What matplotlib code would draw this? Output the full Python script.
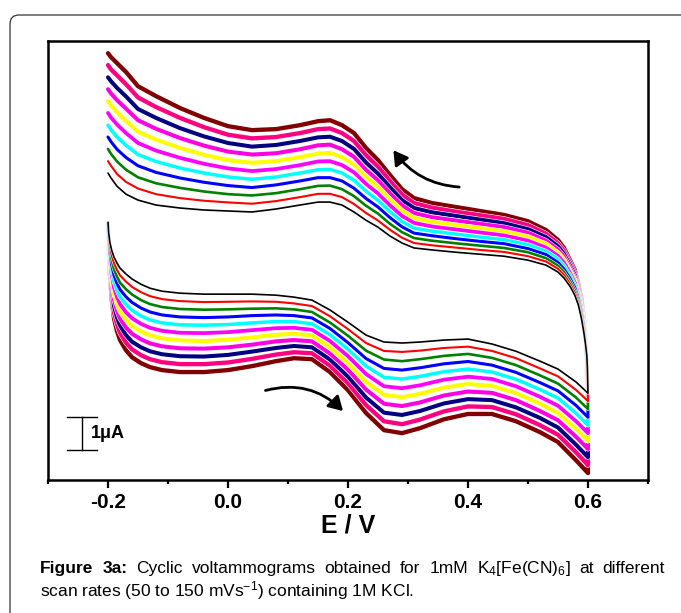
import matplotlib
matplotlib.use("Agg")
import matplotlib.pyplot as plt
import matplotlib.patheffects as pe
from matplotlib.patches import FancyArrowPatch, FancyBboxPatch
from matplotlib.transforms import IdentityTransform
from matplotlib.ticker import MultipleLocator, FormatStrFormatter

plt.rcParams['font.family'] = ['Liberation Sans', 'DejaVu Sans']
plt.rcParams['mathtext.fontset'] = 'custom'
plt.rcParams['mathtext.rm'] = 'Liberation Sans'
plt.rcParams['mathtext.bf'] = 'Liberation Sans:bold'
plt.rcParams['mathtext.it'] = 'Liberation Sans:italic'
plt.rcParams['axes.unicode_minus'] = False

# =========================================================
# data (E in V, I in uA)
# =========================================================
scan_rates = [50, 60, 70, 80, 90, 100, 110, 120, 130, 140, 150]  # mV/s
colors = ['#000000', '#FF0000', '#008000', '#0000FF', '#00FFFF', '#FF00FF',
          '#FFFF00', '#FF00E0', '#000080', '#FF0080', '#800000']

# forward scan -0.2 -> 0.6 V
E_fwd = [-0.2, -0.199, -0.197, -0.194, -0.19, -0.185, -0.18, -0.17, -0.16, -0.145, -0.13,
         -0.11, -0.08, -0.04, 0.0, 0.04, 0.08, 0.11, 0.14, 0.17, 0.2, 0.23, 0.26, 0.29,
         0.32, 0.36, 0.4, 0.44, 0.48, 0.52, 0.55, 0.58, 0.6]
fwd_50 = [2.36, 2.06, 1.76, 1.52, 1.30, 1.12, 0.97, 0.79, 0.64, 0.48, 0.36, 0.27, 0.21,
          0.18, 0.18, 0.18, 0.15, 0.09, 0.00, -0.30, -0.67, -1.06, -1.27, -1.30, -1.27,
          -1.21, -1.18, -1.33, -1.55, -1.85, -2.09, -2.48, -2.82]
fwd_60 = [2.35, 2.02, 1.67, 1.37, 1.12, 0.91, 0.75, 0.56, 0.40, 0.24, 0.12, 0.03, -0.03,
          -0.06, -0.05, -0.04, -0.05, -0.10, -0.18, -0.49, -0.88, -1.30, -1.54, -1.57, -1.53,
          -1.45, -1.41, -1.54, -1.76, -2.07, -2.31, -2.72, -3.06]
fwd_70 = [2.35, 1.98, 1.58, 1.23, 0.93, 0.71, 0.53, 0.33, 0.17, 0.00, -0.12, -0.21, -0.27,
          -0.29, -0.28, -0.26, -0.25, -0.28, -0.36, -0.68, -1.08, -1.53, -1.80, -1.85, -1.79,
          -1.69, -1.63, -1.75, -1.97, -2.28, -2.53, -2.95, -3.30]
fwd_80 = [2.34, 1.94, 1.49, 1.08, 0.75, 0.50, 0.32, 0.10, -0.07, -0.24, -0.36, -0.45, -0.51,
          -0.53, -0.51, -0.47, -0.45, -0.47, -0.54, -0.86, -1.29, -1.77, -2.07, -2.12, -2.05,
          -1.93, -1.86, -1.97, -2.19, -2.50, -2.75, -3.19, -3.55]
fwd_90 = [2.34, 1.90, 1.40, 0.94, 0.56, 0.30, 0.10, -0.13, -0.31, -0.48, -0.60, -0.69, -0.75,
          -0.76, -0.74, -0.69, -0.65, -0.65, -0.72, -1.05, -1.49, -2.00, -2.34, -2.39, -2.31,
          -2.17, -2.09, -2.18, -2.40, -2.71, -2.97, -3.43, -3.79]
fwd_100 = [2.33, 1.87, 1.31, 0.79, 0.38, 0.09, -0.12, -0.37, -0.55, -0.72, -0.84, -0.93, -0.99,
           -1.00, -0.97, -0.91, -0.85, -0.84, -0.90, -1.24, -1.70, -2.24, -2.61, -2.67, -2.58,
           -2.41, -2.32, -2.39, -2.61, -2.93, -3.20, -3.67, -4.03]
fwd_110 = [2.32, 1.83, 1.21, 0.64, 0.19, -0.12, -0.34, -0.60, -0.78, -0.95, -1.07, -1.16, -1.22,
           -1.24, -1.20, -1.13, -1.05, -1.02, -1.07, -1.43, -1.91, -2.48, -2.87, -2.94, -2.84,
           -2.65, -2.54, -2.60, -2.82, -3.14, -3.42, -3.90, -4.27]
fwd_120 = [2.32, 1.79, 1.12, 0.50, 0.01, -0.32, -0.56, -0.83, -1.02, -1.19, -1.31, -1.40, -1.46,
           -1.47, -1.43, -1.35, -1.25, -1.21, -1.25, -1.62, -2.11, -2.71, -3.14, -3.21, -3.10,
           -2.89, -2.77, -2.81, -3.03, -3.36, -3.64, -4.14, -4.51]
fwd_130 = [2.31, 1.75, 1.03, 0.35, -0.18, -0.53, -0.77, -1.06, -1.26, -1.43, -1.55, -1.64, -1.70,
           -1.71, -1.66, -1.56, -1.45, -1.39, -1.43, -1.80, -2.32, -2.95, -3.41, -3.48, -3.36,
           -3.13, -3.00, -3.03, -3.25, -3.57, -3.86, -4.38, -4.76]
fwd_140 = [2.31, 1.71, 0.94, 0.21, -0.37, -0.73, -0.99, -1.29, -1.49, -1.67, -1.79, -1.88, -1.94,
           -1.94, -1.89, -1.78, -1.65, -1.58, -1.61, -1.99, -2.52, -3.18, -3.67, -3.76, -3.62,
           -3.37, -3.22, -3.24, -3.46, -3.79, -4.08, -4.61, -5.00]
fwd_150 = [2.30, 1.67, 0.85, 0.06, -0.55, -0.94, -1.21, -1.52, -1.73, -1.91, -2.03, -2.12, -2.18,
           -2.18, -2.12, -2.00, -1.85, -1.76, -1.79, -2.18, -2.73, -3.42, -3.94, -4.03, -3.88,
           -3.61, -3.45, -3.45, -3.67, -4.00, -4.30, -4.85, -5.24]

# reverse scan 0.6 -> -0.2 V
E_rev = [0.6, 0.5995, 0.599, 0.598, 0.596, 0.593, 0.589, 0.584, 0.578, 0.57, 0.56, 0.55, 0.53,
         0.5, 0.46, 0.42, 0.38, 0.34, 0.31, 0.29, 0.27, 0.25, 0.23, 0.21, 0.19, 0.17, 0.15,
         0.12, 0.08, 0.04, 0.0, -0.04, -0.08, -0.12, -0.15, -0.17, -0.185, -0.195, -0.2]
rev_50 = [-2.82, -2.42, -2.06, -1.67, -1.36, -0.97, -0.55, -0.15, 0.15, 0.42, 0.67, 0.85, 1.06,
          1.21, 1.33, 1.39, 1.45, 1.52, 1.58, 1.73, 1.94, 2.21, 2.42, 2.67, 2.88, 2.97, 2.97,
          2.88, 2.76, 2.67, 2.70, 2.73, 2.79, 2.88, 3.03, 3.21, 3.45, 3.70, 3.85]
rev_60 = [-3.06, -2.59, -2.16, -1.72, -1.35, -0.93, -0.50, -0.09, 0.23, 0.50, 0.76, 0.95, 1.17,
          1.33, 1.46, 1.52, 1.59, 1.66, 1.73, 1.89, 2.13, 2.41, 2.64, 2.91, 3.12, 3.22, 3.22,
          3.12, 3.00, 2.92, 2.96, 3.01, 3.09, 3.21, 3.38, 3.58, 3.82, 4.07, 4.21]
rev_70 = [-3.30, -2.75, -2.25, -1.76, -1.33, -0.89, -0.44, -0.03, 0.30, 0.58, 0.85, 1.04, 1.27,
          1.45, 1.58, 1.65, 1.72, 1.80, 1.88, 2.06, 2.31, 2.62, 2.86, 3.15, 3.36, 3.47, 3.46,
          3.36, 3.24, 3.17, 3.21, 3.29, 3.40, 3.54, 3.72, 3.95, 4.20, 4.43, 4.58]
rev_80 = [-3.55, -2.92, -2.35, -1.81, -1.32, -0.84, -0.39, 0.03, 0.38, 0.66, 0.94, 1.14, 1.38,
          1.56, 1.71, 1.78, 1.86, 1.95, 2.03, 2.22, 2.50, 2.82, 3.08, 3.39, 3.61, 3.71, 3.71,
          3.61, 3.49, 3.41, 3.47, 3.57, 3.70, 3.87, 4.07, 4.32, 4.57, 4.80, 4.94]
rev_90 = [-3.79, -3.09, -2.45, -1.85, -1.30, -0.80, -0.33, 0.09, 0.45, 0.74, 1.03, 1.24, 1.48,
          1.68, 1.83, 1.91, 2.00, 2.09, 2.18, 2.38, 2.68, 3.02, 3.30, 3.63, 3.85, 3.96, 3.95,
          3.85, 3.73, 3.66, 3.73, 3.85, 4.00, 4.20, 4.41, 4.69, 4.94, 5.16, 5.30]
rev_100 = [-4.03, -3.26, -2.55, -1.90, -1.29, -0.76, -0.28, 0.15, 0.53, 0.82, 1.13, 1.34, 1.59,
           1.80, 1.96, 2.05, 2.14, 2.23, 2.34, 2.55, 2.87, 3.23, 3.52, 3.87, 4.09, 4.21, 4.20,
           4.09, 3.97, 3.91, 3.99, 4.13, 4.31, 4.53, 4.76, 5.06, 5.32, 5.53, 5.67]
rev_110 = [-4.27, -3.42, -2.64, -1.94, -1.27, -0.72, -0.22, 0.21, 0.61, 0.89, 1.22, 1.43, 1.70,
           1.92, 2.08, 2.18, 2.27, 2.37, 2.49, 2.71, 3.05, 3.43, 3.73, 4.10, 4.33, 4.46, 4.44,
           4.33, 4.21, 4.16, 4.24, 4.40, 4.61, 4.86, 5.10, 5.43, 5.69, 5.90, 6.03]
rev_120 = [-4.51, -3.59, -2.74, -1.99, -1.26, -0.68, -0.17, 0.27, 0.68, 0.97, 1.31, 1.53, 1.80,
           2.04, 2.21, 2.31, 2.41, 2.51, 2.64, 2.87, 3.24, 3.63, 3.95, 4.34, 4.57, 4.71, 4.69,
           4.57, 4.45, 4.41, 4.50, 4.68, 4.91, 5.19, 5.45, 5.80, 6.06, 6.26, 6.39]
rev_130 = [-4.76, -3.76, -2.84, -2.03, -1.24, -0.63, -0.11, 0.33, 0.76, 1.05, 1.40, 1.63, 1.91,
           2.15, 2.33, 2.44, 2.55, 2.66, 2.79, 3.03, 3.42, 3.83, 4.17, 4.58, 4.82, 4.95, 4.93,
           4.82, 4.70, 4.65, 4.76, 4.96, 5.21, 5.52, 5.79, 6.17, 6.43, 6.63, 6.75]
rev_140 = [-5.00, -3.92, -2.93, -2.08, -1.23, -0.59, -0.06, 0.39, 0.83, 1.13, 1.49, 1.72, 2.01,
           2.27, 2.46, 2.57, 2.68, 2.80, 2.94, 3.20, 3.61, 4.04, 4.39, 4.82, 5.06, 5.20, 5.18,
           5.06, 4.94, 4.90, 5.01, 5.24, 5.52, 5.85, 6.14, 6.54, 6.81, 6.99, 7.12]
rev_150 = [-5.24, -4.09, -3.03, -2.12, -1.21, -0.55, 0.00, 0.45, 0.91, 1.21, 1.58, 1.82, 2.12,
           2.39, 2.58, 2.70, 2.82, 2.94, 3.09, 3.36, 3.79, 4.24, 4.61, 5.06, 5.30, 5.45, 5.42,
           5.30, 5.18, 5.15, 5.27, 5.52, 5.82, 6.18, 6.48, 6.91, 7.18, 7.36, 7.48]

fwd_all = [fwd_50, fwd_60, fwd_70, fwd_80, fwd_90, fwd_100,
           fwd_110, fwd_120, fwd_130, fwd_140, fwd_150]
rev_all = [rev_50, rev_60, rev_70, rev_80, rev_90, rev_100,
           rev_110, rev_120, rev_130, rev_140, rev_150]
widths = [1.2, 1.5, 1.9, 2.2, 2.5, 2.7, 2.9, 2.9, 2.9, 3.1, 3.1]

# caption words (first line is justified in the original)
cap_line1 = [('Figure', 'bold'), ('3a:', 'bold'), ('Cyclic', 'normal'),
             ('voltammograms', 'normal'), ('obtained', 'normal'), ('for', 'normal'),
             ('1mM', 'normal'), ('K$_4$[Fe(CN)$_6$]', 'normal'), ('at', 'normal'),
             ('different', 'normal')]
cap_line2 = 'scan rates (50 to 150 mVs$^{-1}$) containing 1M KCl.'

# =========================================================
# figure
# =========================================================
W, H = 681, 613
fig = plt.figure(figsize=(W / 100, H / 100), dpi=100)

# rounded outer frame
frame = FancyBboxPatch((10, -40), 720, H - 15 + 40, boxstyle="round,pad=0,rounding_size=9",
                       transform=IdentityTransform(), facecolor='none',
                       edgecolor='#333333', lw=0.9)
fig.add_artist(frame)

ax = fig.add_axes([48 / W, 1 - 480 / H, 600 / W, 439 / H])

for i in range(len(scan_rates) - 1, -1, -1):
    lw = widths[i]
    ax.plot(E_fwd + E_rev, fwd_all[i] + rev_all[i], color=colors[i], lw=lw,
            solid_joinstyle='round', solid_capstyle='round',
            path_effects=[pe.Stroke(linewidth=lw + 0.8, foreground='white'), pe.Normal()])

ax.set_xlim(-0.3, 0.7)
ax.set_ylim(-5.45, 7.85)
ax.set_yticks([])
ax.xaxis.set_major_locator(MultipleLocator(0.2))
ax.xaxis.set_minor_locator(MultipleLocator(0.1))
ax.xaxis.set_major_formatter(FormatStrFormatter('%.1f'))
ax.tick_params(axis='x', which='major', direction='out', length=5.5, width=1.6,
               pad=4, labelsize=15)
ax.tick_params(axis='x', which='minor', direction='out', length=3, width=1.6)
for lab in ax.get_xticklabels():
    lab.set_fontweight('bold')
for s in ax.spines.values():
    s.set_linewidth(1.8)
ax.set_xlabel('E / V', fontsize=18, fontweight='bold', labelpad=1)

# scale bar 1 uA
ax.plot([-0.268, -0.218], [-3.55, -3.55], color='black', lw=1.0)
ax.plot([-0.268, -0.218], [-4.55, -4.55], color='black', lw=1.0)
ax.plot([-0.243, -0.243], [-3.55, -4.55], color='black', lw=1.0)
ax.text(-0.228, -4.05, '1\u03bcA', fontsize=13, fontweight='bold', va='center', ha='left')

# scan direction arrows
ax.add_patch(FancyArrowPatch((0.39, 3.42), (0.273, 4.61), connectionstyle='arc3,rad=-0.25',
                             arrowstyle='-|>,head_length=0.6,head_width=0.35',
                             mutation_scale=14, lw=2, color='black'))
ax.add_patch(FancyArrowPatch((0.058, -2.76), (0.195, -3.42), connectionstyle='arc3,rad=-0.3',
                             arrowstyle='-|>,head_length=0.6,head_width=0.35',
                             mutation_scale=14, lw=2, color='black'))

# caption, line 1 justified between x=40 and x=665 px
cap_fs = 12.5
x_left, x_right = 40, 665
words = [fig.text(0, 1 - 573 / H, w, fontsize=cap_fs, fontweight=wt,
                  va='baseline', ha='left') for w, wt in cap_line1]
renderer = fig.canvas.get_renderer()
wpx = [t.get_window_extent(renderer).width for t in words]
gap = (x_right - x_left - sum(wpx)) / (len(words) - 1)
x = x_left
for t, wd in zip(words, wpx):
    t.set_x(x / W)
    x += wd + gap
fig.text(x_left / W, 1 - 596 / H, cap_line2, fontsize=cap_fs, va='baseline', ha='left')

fig.savefig('out.png', dpi=100)
